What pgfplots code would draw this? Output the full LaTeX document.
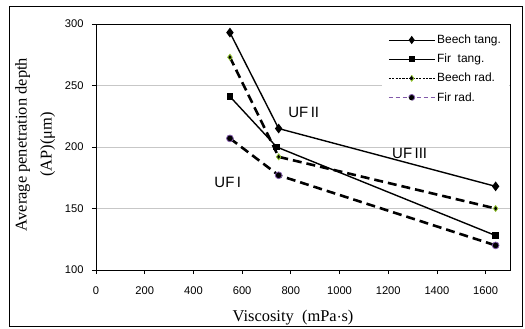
\documentclass[border=0pt]{standalone}
\usepackage{pgfplots}
\pgfplotsset{compat=1.18}
\usepackage{fontspec}
\setmainfont{Liberation Serif}
\newfontfamily\arial{Liberation Sans}
\definecolor{ygreen}{RGB}{150,200,50}
\definecolor{lpurple}{RGB}{130,90,170}
\begin{document}
\begin{tikzpicture}
\begin{axis}[
  at={(0,0)}, anchor=south west,
  scale only axis, width=414bp, height=246bp,
  xmin=0, xmax=1700, ymin=100, ymax=300,
  xtick={0,200,...,1600}, ytick={100,150,...,300},
  ymajorgrids, grid style={black!22, line width=0.8pt},
  axis line style={line width=0.9pt},
  tick align=outside, tick pos=left, major tick length=4bp,
  tick style={black, line width=0.8pt},
  /pgf/number format/assume math mode=true,
  /pgf/number format/1000 sep={},
  ticklabel style={font=\arial\fontsize{11.2}{13}\selectfont},
  xticklabel style={yshift=-9bp},
  yticklabel style={xshift=-5bp},
  xlabel={Viscosity\ \ (mPa$\cdot$s)},
  ylabel={Average penetration depth\\(AP)(μm)},
  label style={font=\fontsize{16.5}{25}\selectfont},
  xlabel style={at={(axis description cs:0.476,-0.195)}, anchor=center},
  ylabel style={at={(axis description cs:-0.147,0.51)}, anchor=center, align=center},
  legend cell align=left,
  legend style={at={(axis description cs:0.998,0.997)}, anchor=north east,
    font=\arial\fontsize{12}{14}\selectfont, draw=none, fill=white,
    inner xsep=6bp, inner ysep=8bp, row sep=5bp, /tikz/every even column/.append style={column sep=6bp}},
]
\addplot[black, line width=1.4pt, mark=diamond*, mark size=3.8pt,
  legend image code/.code={\draw[black, line width=1pt] (0,0)--(1.62cm,0);
    \fill[black] (0.81cm,0) +(0,3pt) -- +(2.2pt,0) -- +(0,-3pt) -- +(-2.2pt,0) -- cycle;}]
  coordinates {(550,293) (750,215) (1641,168)};
\addlegendentry{Beech tang.}
\addplot[black, line width=1.4pt, mark=square*, mark size=2.7pt,
  legend image code/.code={\draw[black, line width=1pt] (0,0)--(1.62cm,0);
    \fill[black] (0.81cm,0) +(-2.4pt,-2.4pt) rectangle +(2.4pt,2.4pt);}]
  coordinates {(550,241) (742,200) (1641,128)};
\addlegendentry{Fir\ \ tang.}
\addplot[black, line width=2.6pt, dash pattern=on 9pt off 5pt,
  mark=diamond*, mark size=3pt, mark options={solid, fill=black, draw=ygreen, line width=0.8pt},
  legend image code/.code={\draw[black, line width=0.8pt, dash pattern=on 2.2pt off 1.2pt] (0,0)--(1.62cm,0);
    \draw[ygreen, fill=black, line width=0.8pt] (0.81cm,0) +(0,3pt) -- +(2.2pt,0) -- +(0,-3pt) -- +(-2.2pt,0) -- cycle;}]
  coordinates {(550,273) (750,192) (1641,150)};
\addlegendentry{Beech rad.}
\addplot[black, line width=2.6pt, dash pattern=on 9pt off 5pt,
  mark=*, mark size=3.4pt, mark options={solid, fill=black, draw=lpurple, line width=0.8pt},
  legend image code/.code={\draw[lpurple, line width=0.8pt, dash pattern=on 4pt off 3pt] (0,0)--(1.62cm,0);
    \draw[lpurple, fill=black, line width=0.8pt] (0.81cm,0) circle (3pt);}]
  coordinates {(550,207) (750,177) (1641,120)};
\addlegendentry{Fir rad.}
\node[font=\arial\fontsize{15}{17}\selectfont] at (axis cs:541,171) {UF\,I};
\node[font=\arial\fontsize{15}{17}\selectfont] at (axis cs:853,228) {UF\,II};
\node[font=\arial\fontsize{15}{17}\selectfont] at (axis cs:1288,195) {UF\,III};
\end{axis}
\draw[black, line width=0.9pt] (-87bp,-56bp) rectangle (426bp,264bp);
\pgfresetboundingbox
\useasboundingbox (-96bp,-59bp) rectangle (429bp,270bp);
\end{tikzpicture}
\end{document}
